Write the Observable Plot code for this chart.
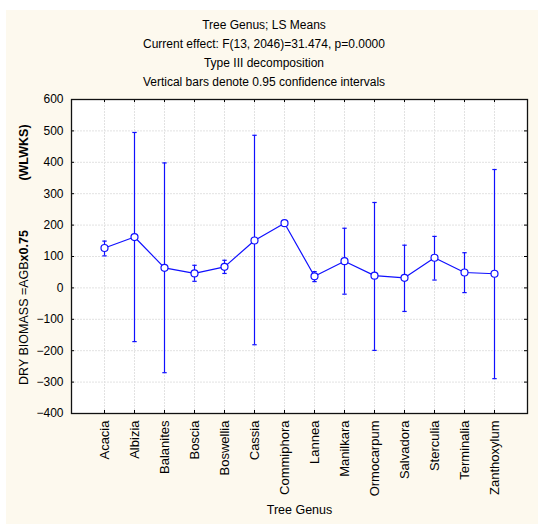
<!DOCTYPE html>
<html><head><meta charset="utf-8">
<script src="https://cdn.jsdelivr.net/npm/d3@7"></script>
<script src="https://cdn.jsdelivr.net/npm/@observablehq/plot@0.6"></script>
<style>
html,body{margin:0;padding:0;background:#fff;}
#bg{position:absolute;left:6px;top:10px;width:532px;height:514px;background:#fdf9ee;}
#title{position:absolute;left:0;top:16px;width:528px;text-align:center;font:12px "Liberation Sans",Arial,sans-serif;line-height:19px;color:#000;}
#chart{position:absolute;left:0;top:0;}
</style></head><body>
<div id="bg"></div>
<div id="title">Tree Genus; LS Means<br>Current effect: F(13, 2046)=31.474, p=0.0000<br>Type III decomposition<br>Vertical bars denote 0.95 confidence intervals</div>
<div id="chart"></div>
<script>
const genus = ["Acacia","Albizia","Balanites","Boscia","Boswellia","Cassia","Commiphora","Lannea","Manilkara","Ormocarpum","Salvadora","Sterculia","Terminalia","Zanthoxylum"];
const means = [127, 162, 64, 46, 67, 151, 206, 37, 85, 39, 32, 96, 49, 45];
const lower = [102, -171, -270, 21, 46, -181, 202, 20, -20, -199, -75, 25, -15, -289];
const upper = [149, 495, 398, 72, 88, 486, 210, 52, 190, 272, 136, 164, 112, 377];
const yTicks = [-400,-300,-200,-100,0,100,200,300,400,500,600];

const data = genus.map((g,i)=>({genus:g, mean:means[i], lo:lower[i], hi:upper[i]}));
const blue = "#1010ff";
const W = 538, H = 524, mL = 71, mR = 11, mT = 99, mB = 111;
const fw = W - mL - mR, fh = H - mT - mB;
const capSymbol = {draw(ctx) { ctx.moveTo(-2.2, 0); ctx.lineTo(2.2, 0); }};
const gridStyle = {stroke: "#e2e2e2", strokeOpacity: 1, strokeDasharray: "2,1"};

const plot = Plot.plot({
  width: W, height: H,
  marginLeft: mL, marginRight: mR, marginTop: mT, marginBottom: mB,
  style: {background: "transparent", fontFamily: '"Liberation Sans", Arial, sans-serif', fontSize: "12px", color: "#000"},
  x: {type: "point", domain: genus, padding: 1, label: null},
  y: {domain: [-400, 600], label: null},
  marks: [
    Plot.frame({fill: "white", stroke: null}),
    Plot.gridY(yTicks, gridStyle),
    Plot.gridX(genus, gridStyle),
    Plot.tickY(yTicks, {y: d => d, stroke: "#000", insetRight: fw - 3}),
    Plot.tickY(yTicks, {y: d => d, stroke: "#000", insetLeft: fw - 3}),
    Plot.tickX(genus, {x: d => d, stroke: "#000", insetBottom: fh - 3}),
    Plot.tickX(genus, {x: d => d, stroke: "#000", insetTop: fh - 3}),
    Plot.axisY(yTicks, {tickSize: 0, tickPadding: 8, fontSize: 12, fill: "#000"}),
    Plot.axisX({tickSize: 0, tickRotate: -90, tickPadding: 7, fontSize: 13, fill: "#000"}),
    Plot.frame({stroke: "#111", strokeWidth: 1.3}),
    Plot.ruleX(data, {x: "genus", y1: "lo", y2: "hi", stroke: blue, strokeWidth: 1.2}),
    Plot.dot(data, {x: "genus", y: "lo", symbol: capSymbol, stroke: blue, strokeWidth: 1.2, fill: "none"}),
    Plot.dot(data, {x: "genus", y: "hi", symbol: capSymbol, stroke: blue, strokeWidth: 1.2, fill: "none"}),
    Plot.line(data, {x: "genus", y: "mean", stroke: blue, strokeWidth: 1.2}),
    Plot.dot(data, {x: "genus", y: "mean", r: 3.5, fill: "white", stroke: blue, strokeWidth: 1.2}),
    Plot.text(["Tree Genus"], {frameAnchor: "bottom", dy: 100, fontSize: 12.5, fill: "#000"}),
    Plot.text(["DRY BIOMASS =AGBx0.75"], {frameAnchor: "left", textAnchor: "middle", dx: -48, dy: 51, rotate: -90, fontSize: 12.5, fill: "#000"}),
    Plot.text(["(WLWKS)"], {frameAnchor: "left", textAnchor: "middle", dx: -48, dy: -104, rotate: -90, fontSize: 12.5, fontWeight: "bold", fill: "#000"})
  ]
});
document.getElementById("chart").appendChild(plot);

// render the multiplier part of the y-axis title in bold
d3.select(plot).selectAll("text").each(function() {
  if (this.textContent === "DRY BIOMASS =AGBx0.75") {
    const t = d3.select(this);
    t.text(null);
    t.append("tspan").text("DRY BIOMASS =AGB");
    t.append("tspan").attr("font-weight", "bold").text("x0.75");
  }
});
</script>
</body></html>
